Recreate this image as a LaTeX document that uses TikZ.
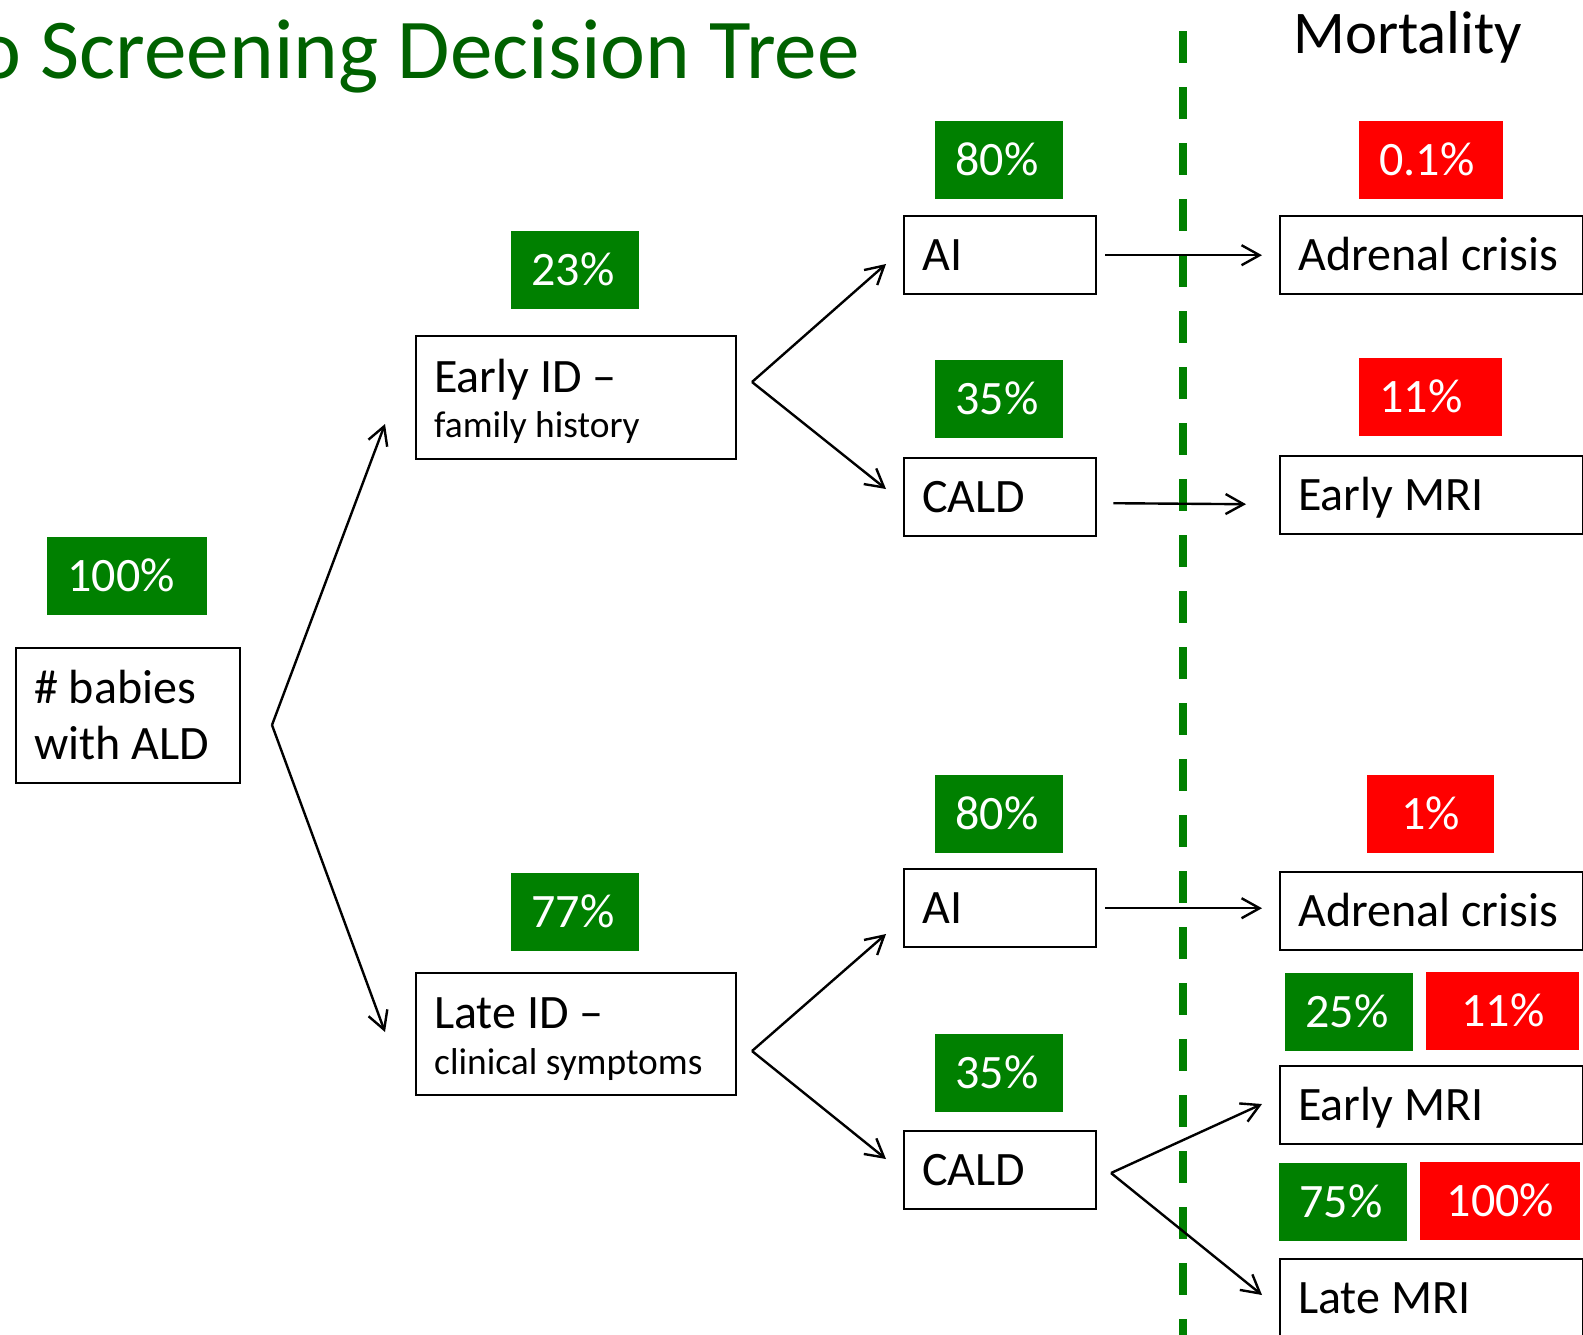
\documentclass[tikz,border=0pt]{standalone}
\usepackage{fontspec}
\setmainfont{Carlito}
\usetikzlibrary{arrows.meta}
\definecolor{okgreen}{RGB}{0,128,0}
\definecolor{badred}{RGB}{255,0,0}
\definecolor{titlegreen}{RGB}{0,97,0}

\begin{document}
\begin{tikzpicture}[x=0.5pt, y=-0.5pt,
  box/.style={draw, line width=1.2pt, anchor=north west, inner xsep=9pt, inner ysep=0pt, minimum height=39pt, align=flush left, text height=17pt, text depth=2pt, font=\fontsize{24}{28}\selectfont},
  pct/.style={fill=okgreen, text=white, anchor=north west, inner xsep=10pt, inner ysep=0pt, minimum height=39pt, align=flush left, text height=17pt, text depth=2pt, font=\fontsize{24}{28}\selectfont},
  mort/.style={pct, fill=badred},
  arr/.style={-{Straight Barb[length=9pt,width=10pt]}, line width=1.2pt},
  divider/.style={okgreen, line width=4pt, dash pattern=on 16pt off 12pt}]

    \useasboundingbox (0,0) rectangle (1583,1334);

    \node[anchor=base east, inner sep=0pt, text=titlegreen, font=\fontsize{42.6}{50}\selectfont] (title) at (860,78) {o Screening Decision Tree};
    \node[anchor=base west, inner sep=0pt, font=\fontsize{30.3}{36}\selectfont] (mortality) at (1293,53) {Mortality};

    \node[box, text width=94pt, minimum height=67.5pt, text height=17pt, text depth=29.5pt] (root) at (15,647) {\# babies\\with ALD};
    \node[box, text width=142pt, minimum height=61.5pt, text height=17pt, text depth=22.5pt] (early) at (415,335) {Early ID –\\[-5.5pt]{\fontsize{18.7}{22}\selectfont family history}};
    \node[box, text width=142pt, minimum height=61pt, text height=17pt, text depth=23pt] (late) at (415,972) {Late ID –\\[-5pt]{\fontsize{18.7}{22}\selectfont clinical symptoms}};
    \node[box, text width=78pt] (aiA) at (903,215) {AI};
    \node[box, text width=78pt] (caldA) at (903,457) {CALD};
    \node[box, text width=78pt] (aiB) at (903,868) {AI};
    \node[box, text width=78pt] (caldB) at (903,1130) {CALD};
    \node[box, text width=133.5pt] (crisisA) at (1279,215) {Adrenal crisis};
    \node[box, text width=133.5pt] (mriA) at (1279,455) {Early MRI};
    \node[box, text width=133.5pt] (crisisB) at (1279,871) {Adrenal crisis};
    \node[box, text width=133.5pt] (mriB) at (1279,1065) {Early MRI};
    \node[box, text width=133.5pt] (lateMRI) at (1279,1258) {Late MRI};

    \node[pct, text width=60pt] (p100) at (47,537) {100\%};
    \node[pct, text width=44pt] (p23) at (511,231) {23\%};
    \node[pct, text width=44pt] (p77) at (511,873) {77\%};
    \node[pct, text width=44pt] (p80A) at (935,121) {80\%};
    \node[pct, text width=44pt] (p35A) at (935,360) {35\%};
    \node[pct, text width=44pt] (p80B) at (935,775) {80\%};
    \node[pct, text width=44pt] (p35B) at (935,1034) {35\%};
    \node[pct, text width=44pt] (p25) at (1285,973) {25\%};
    \node[pct, text width=44pt] (p75) at (1279,1163) {75\%};
    \node[mort, text width=52pt] (m01) at (1359,121) {0.1\%};
    \node[mort, text width=51.5pt] (m11A) at (1359,358) {11\%};
    \node[mort, text width=43.5pt, align=center] (m1) at (1367,775) {1\%};
    \node[mort, text width=56.5pt, align=center] (m11B) at (1426,972) {11\%};
    \node[mort, text width=60pt, align=center] (m100) at (1420,1162) {100\%};

    \coordinate (rootfork) at (272,725);
    \coordinate (earlyin) at (385,424);
    \coordinate (latein) at (385,1032);
    \coordinate (earlyfork) at (752,382);
    \coordinate (aiAin) at (886,264);
    \coordinate (caldAin) at (886,489);
    \coordinate (latefork) at (752,1051);
    \coordinate (aiBin) at (886,934);
    \coordinate (caldBin) at (886,1159);
    \coordinate (caldBfork) at (1111,1173);
    \coordinate (mriBin) at (1262,1104);
    \coordinate (lateMRIin) at (1262,1295);

    \draw[divider] (1183,31) -- (1183,1340);

    \draw[arr] (rootfork) -- (earlyin);
    \draw[arr] (rootfork) -- (latein);
    \draw[arr] (earlyfork) -- (aiAin);
    \draw[arr] (earlyfork) -- (caldAin);
    \draw[arr] (latefork) -- (aiBin);
    \draw[arr] (latefork) -- (caldBin);
    \draw[arr] ([xshift=4pt]aiA.east) -- ([xshift=-8.5pt]crisisA.west);
    \draw[arr] ([xshift=8pt,yshift=-3pt]caldA.east) -- ([xshift=-16.5pt,yshift=-4.5pt]mriA.west);
    \draw[arr] ([xshift=4pt]aiB.east) -- ([xshift=-8.5pt,yshift=1.5pt]crisisB.west);
    \draw[arr] (caldBfork) -- (mriBin);
    \draw[arr] (caldBfork) -- (lateMRIin);

\end{tikzpicture}
\end{document}
